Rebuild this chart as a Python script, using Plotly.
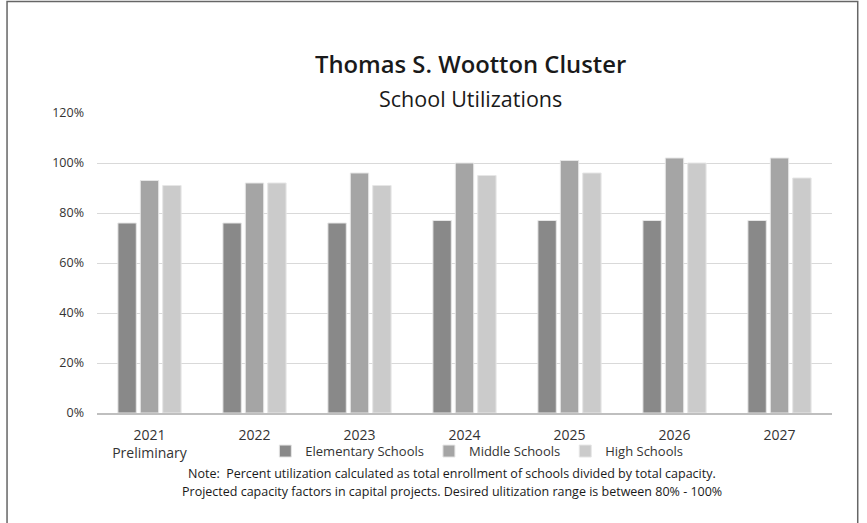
import plotly.graph_objects as go

categories = ["2021<br>Preliminary", "2022", "2023", "2024", "2025", "2026", "2027"]
elementary = [76, 76, 76, 77, 77, 77, 77]
middle = [93, 92, 96, 100, 101, 102, 102]
high = [91, 92, 91, 95, 96, 100, 94]
series_names = ["Elementary Schools", "Middle Schools", "High Schools"]
colors = ["#898989", "#a5a5a5", "#cbcbcb"]

FONT = "'Open Sans', Lato, sans-serif"

fig = go.Figure()
for name, vals, c in zip(series_names, [elementary, middle, high], colors):
    fig.add_trace(go.Bar(x=categories, y=vals, name=name,
                         marker=dict(color=c, line=dict(color="#e6e6e6", width=1))))

fig.update_layout(
    width=867, height=523,
    margin=dict(l=97, r=35, t=113, b=110, autoexpand=False),
    paper_bgcolor="white", plot_bgcolor="white",
    barmode="group", bargap=0.36, bargroupgap=0.18,
    font=dict(family=FONT, color="#333333"),
    showlegend=True,
    legend=dict(orientation="h", x=0.229, y=-0.127, xanchor="left", yanchor="middle",
                font=dict(size=13, color="#333333"), itemwidth=30,
                bgcolor="rgba(0,0,0,0)", traceorder="normal"),
    xaxis=dict(showgrid=False, showline=True, linecolor="#bfbfbf", linewidth=1.5,
               ticks="", tickfont=dict(size=14, color="#333333"), ticklabelstandoff=8),
    yaxis=dict(range=[0, 120], dtick=20, ticksuffix="%", showgrid=True,
               gridcolor="#d9d9d9", gridwidth=1, zeroline=False, showline=False,
               tickfont=dict(size=12.5, color="#333333"), ticklabelstandoff=12),
    annotations=[
        dict(text="Thomas S. Wootton Cluster", x=0.5075, y=1.163, xref="paper", yref="paper",
             showarrow=False, font=dict(size=23.8, color="#1a1a1a", family=FONT, weight=600),
             xanchor="center", yanchor="middle"),
        dict(text="School Utilizations", x=0.5075, y=1.047, xref="paper", yref="paper",
             showarrow=False, font=dict(size=21.5, color="#1a1a1a", family=FONT), xanchor="center", yanchor="middle"),
        dict(text="Note:  Percent utilization calculated as total enrollment of schools divided by total capacity.",
             x=0.483, y=-0.203, xref="paper", yref="paper", showarrow=False,
             font=dict(size=12.5, color="#1a1a1a", family=FONT), xanchor="center", yanchor="middle"),
        dict(text="Projected capacity factors in capital projects. Desired ulitization range is between 80% - 100%",
             x=0.483, y=-0.263, xref="paper", yref="paper", showarrow=False,
             font=dict(size=12.5, color="#1a1a1a", family=FONT), xanchor="center", yanchor="middle"),
    ],
    shapes=[dict(type="rect", xref="paper", yref="paper", x0=-0.1224, x1=1.035, y0=-0.45, y1=1.372,
                 line=dict(color="#666666", width=1.5), fillcolor="rgba(0,0,0,0)", layer="below")],
)

fig.write_html("out.html", config={"displayModeBar": False},
               post_script="document.body.style.margin='0';")
